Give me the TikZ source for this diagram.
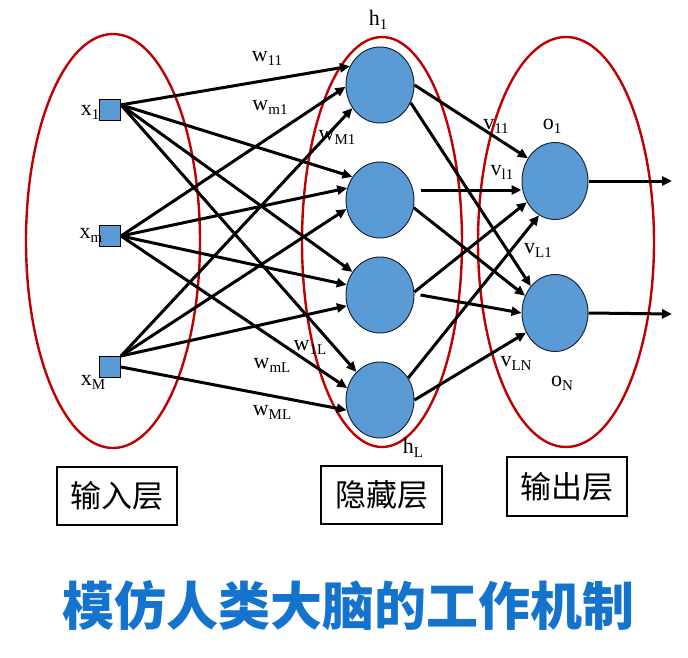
\documentclass[tikz,border=0pt]{standalone}
\usepackage{fontspec}
\setmainfont{Liberation Serif}
\newfontfamily\cjk{Noto Sans CJK SC}
\usetikzlibrary{arrows.meta,shapes.geometric,calc}
\definecolor{redline}{RGB}{192,0,0}
\definecolor{nodeblue}{RGB}{91,155,213}
\definecolor{nodeedge}{RGB}{30,40,60}
\definecolor{titleblue}{RGB}{20,115,205}
\newcommand\sbs[1]{\raisebox{-0.4ex}{\fontsize{15}{15}\selectfont #1}}
\begin{document}
\begin{tikzpicture}[x=1pt,y=-1pt,
  layer/.style={draw=redline, line width=2.4pt},
  hid/.style={ellipse, draw=nodeedge, line width=1pt, fill=nodeblue, minimum width=68pt, minimum height=76pt, inner sep=0},
  inp/.style={rectangle, draw=black, line width=1pt, fill=nodeblue, minimum size=21pt, inner sep=0},
  arr/.style={-{Triangle[length=10pt,width=9pt]}, line width=3pt},
  lbl/.style={inner sep=0, font=\fontsize{22}{22}\selectfont},
  boxl/.style={draw, line width=1.3pt, inner sep=0, font=\cjk\fontsize{31}{31}\selectfont}]
\useasboundingbox (0,0) rectangle (688,658);
% layer ellipses
\draw[layer] (113,241) ellipse [x radius=87pt, y radius=207pt];
\draw[layer] (382,242) ellipse [x radius=80pt, y radius=205pt];
\draw[layer] (566,242) ellipse [x radius=88pt, y radius=205pt];
% nodes
\node[inp] (x1) at (110,110) {};
\node[inp] (xm) at (110,236) {};
\node[inp] (xM) at (110,367) {};
\node[hid] (h1) at (380,85) {};
\node[hid] (h2) at (380,200) {};
\node[hid] (h3) at (380,295) {};
\node[hid] (h4) at (380,400) {};
\node[hid, minimum width=66pt, minimum height=77pt] (o1) at (555,181) {};
\node[hid, minimum width=66pt, minimum height=77pt] (oN) at (555,313) {};
% input -> hidden
\draw[arr] (x1.25) -- (h1.148);
\draw[arr] (x1.25) -- (h2.140);
\draw[arr] (x1.25) -- (h3.140);
\draw[arr] (x1.25) -- (h4.130);
\draw[arr] (xm.east) -- (h1.183);
\draw[arr] (xm.east) -- (h2.160);
\draw[arr] (xm.east) -- (h3.163);
\draw[arr] (xm.east) -- (h4.160);
\draw[arr] (xM.north east) -- (h1.220);
\draw[arr] (xM.north east) -- (h2.195);
\draw[arr] (xM.north east) -- (h3.198);
\draw[arr] (xM.east) -- (h4.197);
% hidden -> output
\coordinate (h2s) at ($(h2.east)+(6,-10)$);
\draw[arr] (h1.east) -- (o1.140);
\draw[arr] (h1.-30) -- (oN.132);
\draw[arr] (h2s) -- (h2s -| o1.west);
\draw[arr] (h2.-13) -- (oN.150);
\draw[arr] (h3.5) -- (o1.217);
\draw[arr] ([xshift=6pt]h3.east) -- (oN.180);
\draw[arr] (h4.38) -- (o1.245);
\draw[arr] (h4.east) -- (oN.214);
% outputs
\coordinate (out1) at (672,181);
\coordinate (outN) at (672,314);
\draw[arr] (o1.east) -- (out1);
\draw[arr] (oN.east) -- (outN);
% labels
\node[lbl] (lx1) at (90,112) {x\sbs{1}};
\node[lbl] (lxm) at (91,235) {x\sbs{m}};
\node[lbl] (lxM) at (93,382) {x\sbs{M}};
\node[lbl] (lw11) at (267,58) {w\sbs{11}};
\node[lbl] (lwm1) at (270,107) {w\sbs{m1}};
\node[lbl] (lwM1) at (337,137) {w\sbs{M1}};
\node[lbl] (lw1L) at (310,347) {w\sbs{1L}};
\node[lbl] (lwmL) at (272,365) {w\sbs{mL}};
\node[lbl] (lwML) at (272,412) {w\sbs{ML}};
\node[lbl] (lh1) at (378,20) {h\sbs{1}};
\node[lbl] (lhL) at (413,448) {h\sbs{L}};
\node[lbl] (lv11) at (496,126) {v\sbs{11}};
\node[lbl] (lo1) at (552,126) {o\sbs{1}};
\node[lbl] (lvl1) at (502,172) {v\sbs{l1}};
\node[lbl] (lvL1) at (538,250) {v\sbs{L1}};
\node[lbl] (lvLN) at (516,363) {v\sbs{LN}};
\node[lbl] (loN) at (562,383) {o\sbs{N}};
% layer boxes
\node[boxl, minimum width=120pt, minimum height=58pt] (bin) at (117,496) {输入层};
\node[boxl, minimum width=121pt, minimum height=58pt] (bhid) at (381.5,495) {隐藏层};
\node[boxl, minimum width=120pt, minimum height=59pt] (bout) at (567,486.5) {输出层};
% title
\node[inner sep=0, text=titleblue, font=\cjk\bfseries\fontsize{52}{52}\selectfont] (title) at (348.5,606) {模仿人类大脑的工作机制};
\end{tikzpicture}
\end{document}
